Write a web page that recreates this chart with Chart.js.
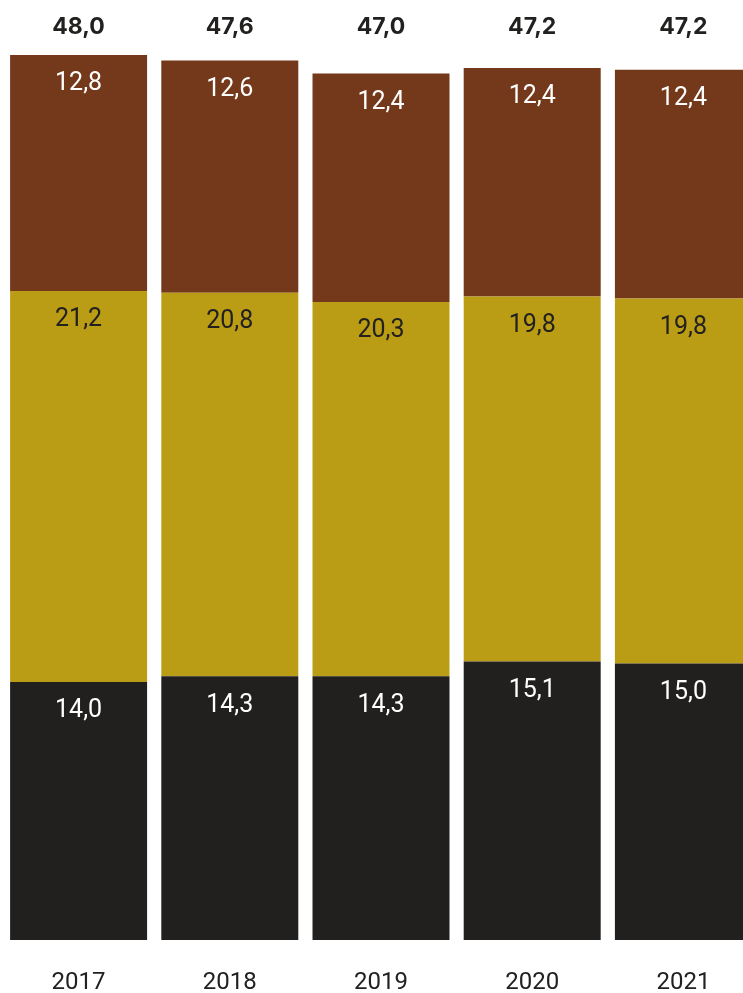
<!DOCTYPE html>
<html lang="de">
<head>
<meta charset="UTF-8">
<title>Entwicklung 2017–2021</title>
<script src="https://cdn.jsdelivr.net/npm/chart.js"></script>
<style>
  html, body { margin: 0; padding: 0; background: #fff; overflow: hidden; }
  canvas { display: block; }
</style>
</head>
<body>
<canvas id="chart" width="760" height="993"></canvas>
<script>
const years = ['2017', '2018', '2019', '2020', '2021'];
const bottomValues = [14.0, 14.3, 14.3, 15.1, 15.0];
const middleValues = [21.2, 20.8, 20.3, 19.8, 19.8];
const topValues = [12.8, 12.6, 12.4, 12.4, 12.4];
const totals = [48.0, 47.6, 47.0, 47.2, 47.2];

const fmt = v => v.toFixed(1).replace('.', ',');

// Werte in jedes Segment schreiben, Summen über die Säulen
const segmentLabels = {
  id: 'segmentLabels',
  afterDatasetsDraw(chart) {
    const ctx = chart.ctx;
    ctx.save();
    ctx.textAlign = 'center';
    ctx.textBaseline = 'middle';
    ctx.font = '25px Roboto';
    chart.data.datasets.forEach((ds, i) => {
      const meta = chart.getDatasetMeta(i);
      ctx.fillStyle = ds.labelColor;
      meta.data.forEach((bar, j) => {
        ctx.fillText(fmt(ds.data[j]), bar.x, bar.y + 29);
      });
    });
    ctx.font = 'bold 23px Inter';
    ctx.fillStyle = '#222120';
    const xScale = chart.scales.x;
    totals.forEach((t, j) => {
      ctx.fillText(fmt(t), xScale.getPixelForValue(j), 27);
    });
    ctx.restore();
  }
};

new Chart(document.getElementById('chart'), {
  type: 'bar',
  data: {
    labels: years,
    datasets: [
      { data: bottomValues, backgroundColor: '#22201f', labelColor: '#ffffff' },
      { data: middleValues, backgroundColor: '#bb9c15', labelColor: '#222120' },
      { data: topValues, backgroundColor: '#74381a', labelColor: '#ffffff' }
    ]
  },
  options: {
    responsive: false,
    animation: false,
    barPercentage: 0.906,
    categoryPercentage: 1,
    layout: { padding: { top: 55, left: 3, right: 1, bottom: 0 } },
    plugins: {
      legend: { display: false },
      tooltip: { enabled: false }
    },
    scales: {
      x: {
        stacked: true,
        grid: { display: false, drawTicks: false },
        border: { display: false },
        afterFit(scale) { scale.height = 53; },
        ticks: {
          color: '#222120',
          padding: 29,
          font: { family: 'Roboto, sans-serif', size: 24 }
        }
      },
      y: {
        stacked: true,
        display: false,
        min: 0,
        max: 48
      }
    }
  },
  plugins: [segmentLabels]
});
</script>
</body>
</html>
